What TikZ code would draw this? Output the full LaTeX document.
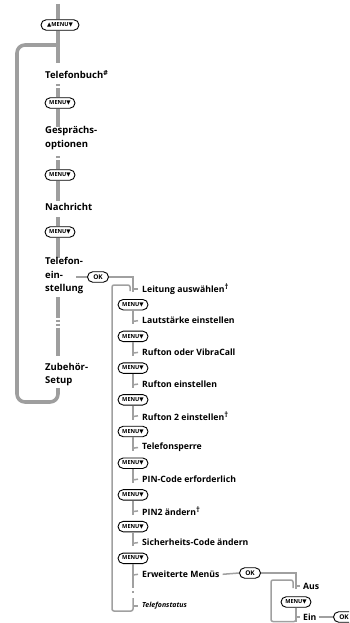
\documentclass[tikz,border=0pt]{standalone}
\usepackage{fontspec}
\setmainfont{Open Sans}
\newfontfamily\symf{DejaVu Sans}
\usetikzlibrary{shapes.misc}
\definecolor{gline}{RGB}{158,158,158}
\definecolor{sline}{RGB}{160,160,160}
\newcommand{\mnu}{MENU{\symf ▼}}
\newcommand{\mnuud}{{\symf ▲}MENU{\symf ▼}}
\newcommand{\dagr}{\raisebox{3pt}{\fontsize{7.5}{7.5}\selectfont †}}
\begin{document}
\begin{tikzpicture}[x=1pt,y=-1pt,
  mainline/.style={line width=3.6pt, draw=gline},
  subline/.style={line width=1.5pt, draw=sline},
  menub/.style={draw, rounded rectangle, line width=0.9pt, minimum width=30pt, minimum height=10.5pt, inner sep=0pt, font=\fontsize{5.6}{5.6}\selectfont\bfseries},
  okb/.style={menub, minimum width=21pt, font=\fontsize{6.5}{6.5}\selectfont\bfseries},
  maintext/.style={anchor=west, align=left, inner sep=0pt, font=\fontsize{9.5}{13.5}\selectfont\bfseries},
  subtext/.style={anchor=west, inner sep=0pt, font=\fontsize{8.7}{10}\selectfont\bfseries},
  notch/.style={mainline, dash pattern=on 9pt off 2pt on 4pt off 20pt}
]
\clip (0,0) rectangle (349,623);
\useasboundingbox (0,0) rectangle (349,623);
% main column
\coordinate (top) at (58,4);
\node[menub, minimum width=38pt] (m0) at (60,25) {\mnuud};
\draw[mainline] (top) -- (top |- m0.north);
\draw[mainline] (top |- m0.south) -- ++(0,32);
\coordinate (lp) at (58,45);
\node[maintext] (t1) at (45,75) {Telefonbuch\raisebox{3pt}{\fontsize{7}{7}\selectfont\#}};
\node[menub] (m1) at (60,103) {\mnu};
\draw[notch] (top |- m1.north) -- ++(0,-13);
\draw[mainline] (top |- m1.south) -- ++(0,18);
\node[maintext] (t2) at (45,138) {Gesprächs-\\optionen};
\node[menub] (m2) at (60,175) {\mnu};
\draw[notch] (top |- m2.north) -- ++(0,-13);
\draw[mainline] (top |- m2.south) -- ++(0,20);
\node[maintext] (t3) at (45,207) {Nachricht};
\node[menub] (m3) at (60,232) {\mnu};
\draw[notch] (top |- m3.north) -- ++(0,-10);
\draw[mainline] (top |- m3.south) -- ++(0,20);
\node[maintext] (t4) at (45,276) {Telefon-\\ein-\\stellung};
\coordinate (d1) at (58,297);
\coordinate (d2) at (58,356);
\draw[mainline, dash pattern=on 21pt off 1.5pt on 2.5pt off 1.5pt on 2.5pt off 1.5pt on 40pt] (d1) -- (d2);
\node[maintext] (t5) at (45,374.5) {Zubehör-\\Setup};
\coordinate (d3) at (58,388);
\draw[mainline, rounded corners=8pt] (d3) -- (58,402) -- (17,402) -- (17,45) -- (lp);
% submenu
\node[okb] (ok1) at (98,277) {OK};
\coordinate (e1) at (76,277);
\draw[subline] (e1) -- (ok1.west);
\draw[subline] (ok1.east) -- (133,277) -- (133,292);
\node[subtext] (s0) at (142,289) {Leitung auswählen\dagr};
\draw[subline] (133,289) -- ([xshift=-4pt]s0.west);
\foreach \i/\txt in {1/Lautstärke einstellen, 2/Rufton oder VibraCall, 3/Rufton einstellen, 4/{Rufton 2 einstellen\dagr}, 5/Telefonsperre, 6/PIN-Code erforderlich, 7/{PIN2 ändern\dagr}, 8/Sicherheits-Code ändern, 9/Erweiterte Menüs}{
  \node[menub] (b\i) at (133,{289+31.7*\i-16}) {\mnu};
  \node[subtext] (s\i) at (142,{289+31.7*\i}) {\txt};
  \draw[subline] (b\i.south) -- ++(0,14);
  \draw[subline] (b\i.south) ++(0,11) -- ([xshift=-4pt]s\i.west);
}
\draw[subline] (b9.south) -- ++(0,22);
\draw[subline, dash pattern=on 1.5pt off 3.5pt] (133,586) -- (133,596);
\node[subtext, font=\fontsize{7}{8}\selectfont\bfseries\itshape] (s10) at (142,606) {Telefonstatus};
\draw[subline] (133,606) -- ([xshift=-4pt]s10.west);
\draw[subline, rounded corners=2pt] (133,598) -- (133,611) -- (112,611) -- (112,285) -- (130,285) -- (130,291);
% right part
\node[okb] (ok2) at (250,573) {OK};
\draw[subline] ([xshift=3pt]s9.east) -- (ok2.west);
\draw[subline] (ok2.east) -- (296,573) -- (296,589);
\node[subtext] (aus) at (303,586) {Aus};
\draw[subline] (296,586) -- ([xshift=-3pt]aus.west);
\node[menub] (mb) at (296,602) {\mnu};
\draw[subline] (mb.south) -- ++(0,14);
\node[subtext] (ein) at (303,617) {Ein};
\draw[subline] (296,617) -- ([xshift=-3pt]ein.west);
\draw[subline, rounded corners=2pt] (296,619) -- (296,621.5) -- (271,621.5) -- (271,580) -- (293,580) -- (293,588);
\node[okb] (ok3) at (344,617) {OK};
\draw[subline] ([xshift=2pt]ein.east) -- (ok3.west);
\end{tikzpicture}
\end{document}
